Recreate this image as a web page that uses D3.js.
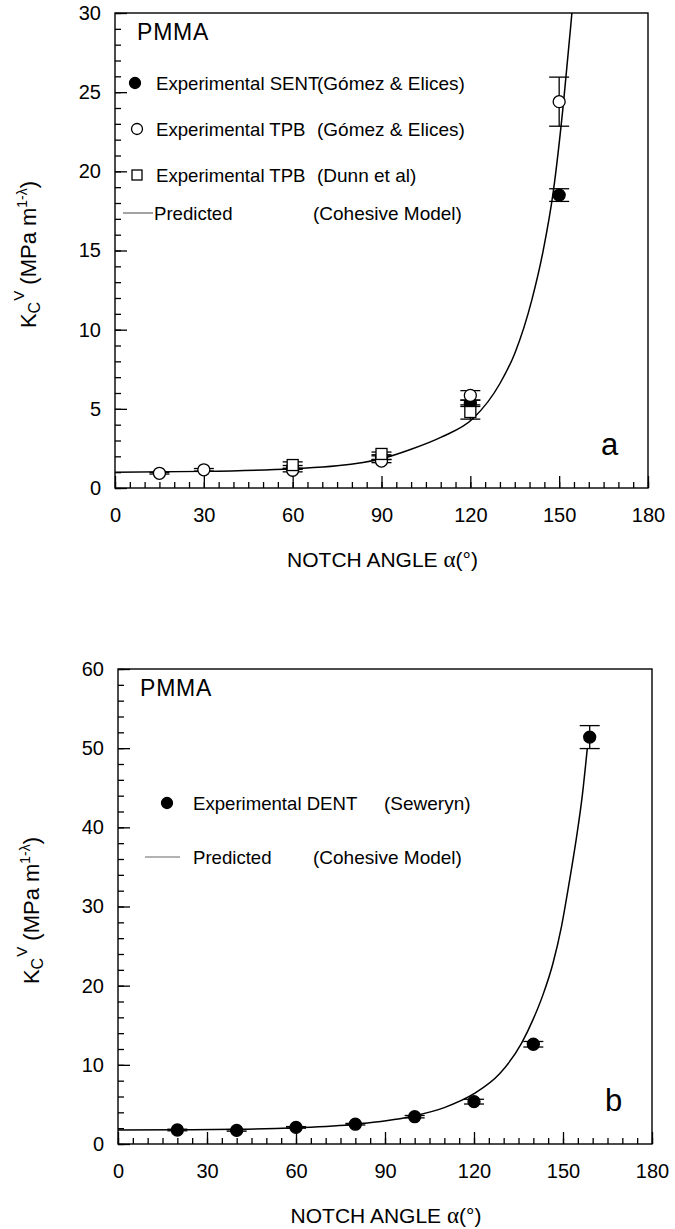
<!DOCTYPE html>
<html>
<head>
<meta charset="utf-8">
<script src="https://cdn.jsdelivr.net/npm/d3@7"></script>
<style>
  body { margin: 0; background: #fff; }
  svg text { font-family: "Liberation Sans", Arial, sans-serif; fill: #000; }
</style>
</head>
<body>
<svg id="fig" width="675" height="1229"></svg>
<script>
// ---- panel a : [angle, K, error] ----
const sentA     = [[60, 1.3, 0.12], [90, 1.95, 0.15], [120, 5.35, 0.2], [150, 18.5, 0.4]];
const tpbGomezA = [[15, 0.93, 0.05], [30, 1.15, 0.08], [60, 1.12, 0.1], [90, 1.7, 0.1], [120, 5.85, 0.3], [150, 24.4, 1.55]];
const tpbDunnA  = [[60, 1.45, 0.2], [90, 2.15, 0.12], [120, 4.8, 0.45]];
const modelA    = [[0, 1.0], [30, 1.05], [60, 1.22], [75, 1.4], [90, 1.85], [100, 2.45], [110, 3.2],
                   [121, 4.4], [130, 6.6], [135, 8.5], [140.8, 11.9], [144.5, 14.9], [148, 18.7],
                   [151.5, 24.4], [154.3, 30], [155.5, 32.5]];

// ---- panel b ----
const dentB  = [[20, 1.77, 0.1], [40, 1.72, 0.1], [60, 2.1, 0.1], [80, 2.5, 0.1], [100, 3.45, 0.15],
                [120, 5.35, 0.3], [140, 12.6, 0.35], [159, 51.4, 1.45]];
const modelB = [[0, 1.77], [20, 1.8], [40, 1.85], [60, 2.05], [80, 2.5], [98.4, 3.45], [110, 4.6],
                [120, 6.35], [128.7, 8.9], [136, 12.7], [140, 15.8], [143.3, 18.9], [146.6, 22.8],
                [149.5, 27.5], [152.3, 33.5], [154.5, 38.6], [156.5, 44], [158.2, 50]];

const xTicks = [0, 30, 60, 90, 120, 150, 180];

const svg = d3.select('#fig');

function drawPanel(p) {
  const g = svg.append('g');
  const x = d3.scaleLinear().domain([0, 180]).range([p.left, p.right]);
  const y = d3.scaleLinear().domain([0, p.yMax]).range([p.bottom, p.top]);

  // minor ticks (inward)
  g.append('g').attr('transform', `translate(${p.left},0)`)
    .call(d3.axisLeft(y).tickValues(d3.range(0, p.yMax + 0.01, p.yMinor)).tickSize(-6).tickFormat(''))
    .call(a => a.select('.domain').remove());
  g.append('g').attr('transform', `translate(0,${p.bottom})`)
    .call(d3.axisBottom(x).tickValues(d3.range(0, 181, 5)).tickSize(-6).tickFormat(''))
    .call(a => a.select('.domain').remove());

  // major ticks + labels
  const yAx = g.append('g').attr('transform', `translate(${p.left},0)`)
    .call(d3.axisLeft(y).tickValues(d3.range(0, p.yMax + 0.01, p.yMajor)).tickSize(-12).tickPadding(14))
    .call(a => a.select('.domain').remove());
  const xAx = g.append('g').attr('transform', `translate(0,${p.bottom})`)
    .call(d3.axisBottom(x).tickValues(xTicks).tickSize(-12).tickPadding(20))
    .call(a => a.select('.domain').remove());
  [yAx, xAx].forEach(a => {
    a.attr('font-family', null).attr('font-size', null);
    a.selectAll('text').attr('font-size', 20);
  });
  g.selectAll('.tick line').attr('stroke', '#000').attr('stroke-width', 1.3);

  // frame
  g.append('rect')
    .attr('x', p.left).attr('y', p.top)
    .attr('width', p.right - p.left).attr('height', p.bottom - p.top)
    .attr('fill', 'none').attr('stroke', '#000').attr('stroke-width', 1.4);

  // model curve, clipped to the frame
  const clipId = 'clip-' + p.id;
  svg.append('clipPath').attr('id', clipId)
    .append('rect').attr('x', p.left).attr('y', p.top)
    .attr('width', p.right - p.left).attr('height', p.bottom - p.top);
  const line = d3.line().x(d => x(d[0])).y(d => y(d[1])).curve(d3.curveMonotoneX);
  g.append('path').datum(p.model)
    .attr('clip-path', `url(#${clipId})`)
    .attr('d', line)
    .attr('fill', 'none').attr('stroke', '#000').attr('stroke-width', 1.5);

  // series: error bars then markers
  p.series.forEach(s => {
    const eb = g.append('g').attr('stroke', '#000').attr('stroke-width', 1.3);
    s.data.forEach(d => {
      const cx = x(d[0]), y0 = y(d[1] - d[2]), y1 = y(d[1] + d[2]);
      eb.append('line').attr('x1', cx).attr('x2', cx).attr('y1', y0).attr('y2', y1);
      eb.append('line').attr('x1', cx - 10).attr('x2', cx + 10).attr('y1', y0).attr('y2', y0);
      eb.append('line').attr('x1', cx - 10).attr('x2', cx + 10).attr('y1', y1).attr('y2', y1);
    });
    drawMarkers(g, s.shape, s.data.map(d => [x(d[0]), y(d[1])]), 6);
  });

  // panel text
  g.append('text').attr('x', p.left + 22).attr('y', p.top + 27)
    .attr('font-size', 23).attr('letter-spacing', 0.8).text('PMMA');
  g.append('text').attr('x', p.right - 47).attr('y', p.bottom - 33)
    .attr('font-size', 31).text(p.id);

  // legend
  p.legend.forEach(l => {
    if (l.shape === 'line') {
      g.append('line').attr('x1', l.sx - 15).attr('x2', l.sx + 15 + (l.extra || 0))
        .attr('y1', l.y).attr('y2', l.y).attr('stroke', '#666').attr('stroke-width', 1.2);
    } else {
      drawMarkers(g, l.shape, [[l.sx, l.y]], 5.5);
    }
    g.append('text').attr('x', l.tx).attr('y', l.y + 7).attr('font-size', 18.6).text(l.label);
    g.append('text').attr('x', l.rx).attr('y', l.y + 7).attr('font-size', 19).text(l.ref);
  });

  // axis titles
  const yt = g.append('text')
    .attr('transform', `translate(${p.left - 79},${(p.top + p.bottom) / 2 + 4}) rotate(-90)`)
    .attr('text-anchor', 'middle').attr('font-size', 22);
  yt.append('tspan').text('K');
  yt.append('tspan').attr('font-size', 16).attr('dy', 4).text('C');
  yt.append('tspan').attr('font-size', 15).attr('dy', -16).attr('dx', 1).text('V');
  yt.append('tspan').attr('dy', 12).text(' (MPa m');
  yt.append('tspan').attr('font-size', 14).attr('dy', -9).text('1-λ');
  yt.append('tspan').attr('dy', 9).text(')');

  const xt = g.append('text')
    .attr('x', (p.left + p.right) / 2 + 1).attr('y', p.bottom + 79)
    .attr('text-anchor', 'middle').attr('font-size', 21);
  xt.append('tspan').text('NOTCH ANGLE ');
  xt.append('tspan').attr('font-family', '"Liberation Serif", serif').attr('font-size', 23).text('α');
  xt.append('tspan').text('(°)');
}

function drawMarkers(g, shape, pts, r) {
  pts.forEach(([cx, cy]) => {
    if (shape === 'square') {
      g.append('rect').attr('x', cx - r + 0.5).attr('y', cy - r + 0.5)
        .attr('width', 2 * r - 1).attr('height', 2 * r - 1)
        .attr('fill', '#fff').attr('stroke', '#000').attr('stroke-width', 1.3);
    } else {
      g.append('circle').attr('cx', cx).attr('cy', cy).attr('r', r)
        .attr('fill', shape === 'filled' ? '#000' : '#fff')
        .attr('stroke', '#000').attr('stroke-width', 1.3);
    }
  });
}

drawPanel({
  id: 'a', left: 115, right: 648, top: 13, bottom: 488, yMax: 30, yMajor: 5, yMinor: 1,
  model: modelA,
  series: [
    { shape: 'filled', data: sentA },
    { shape: 'open', data: tpbGomezA },
    { shape: 'square', data: tpbDunnA }
  ],
  legend: [
    { shape: 'filled', sx: 135, y: 83, tx: 156, rx: 317, label: 'Experimental SENT', ref: '(Gómez & Elices)' },
    { shape: 'open', sx: 137, y: 129, tx: 156, rx: 317, label: 'Experimental TPB', ref: '(Gómez & Elices)' },
    { shape: 'square', sx: 137, y: 175, tx: 156, rx: 317, label: 'Experimental TPB', ref: '(Dunn et al)' },
    { shape: 'line', sx: 138, y: 213, tx: 154, rx: 313, label: 'Predicted', ref: '(Cohesive Model)' }
  ]
});

drawPanel({
  id: 'b', left: 118, right: 652, top: 669, bottom: 1144, yMax: 60, yMajor: 10, yMinor: 2,
  model: modelB,
  series: [{ shape: 'filled', data: dentB }],
  legend: [
    { shape: 'filled', sx: 167, y: 803, tx: 193, rx: 384, label: 'Experimental DENT', ref: '(Seweryn)' },
    { shape: 'line', sx: 160, y: 857, extra: 5, tx: 193, rx: 313, label: 'Predicted', ref: '(Cohesive Model)' }
  ]
});
</script>
</body>
</html>
